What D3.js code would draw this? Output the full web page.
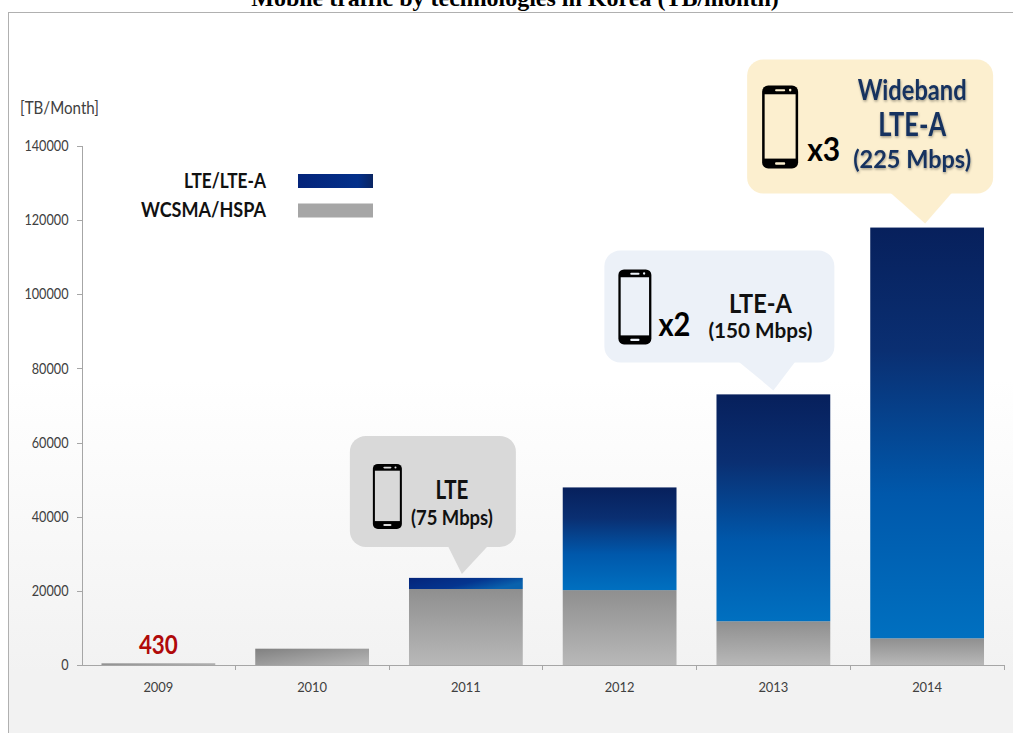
<!DOCTYPE html>
<html>
<head>
<meta charset="utf-8">
<title>Mobile traffic by technologies in Korea</title>
<script src="https://cdn.jsdelivr.net/npm/d3@7"></script>
<style>
  html, body { margin: 0; padding: 0; background: #fff; overflow: hidden; }
  svg { display: block; }
  text { font-family: Lato, "Open Sans", sans-serif; }
  .axis path, .axis line { stroke: #a6a6a6; shape-rendering: crispEdges; }
  .axis text { fill: #404040; }
</style>
</head>
<body>
<div id="chart"></div>
<script>
// ---- Data ----
var YEARS = ['2009', '2010', '2011', '2012', '2013', '2014'];
var WCDMA_VALUES = [430, 4400, 20500, 20200, 11800, 7200];
var LTE_VALUES = [0, 0, 3000, 27700, 61200, 110800];
var Y_TICKS = [0, 20000, 40000, 60000, 80000, 100000, 120000, 140000];

var LEGEND_LABELS = ['LTE/LTE-A', 'WCSMA/HSPA'];
var LEGEND_WIDTHS = [82, 125];

// Callouts: lines are [text, centre dx from box left, baseline dy from box top, size, width]
var CALLOUTS = [
  { year: '2011', fill: '#d9d9d9', color: '#111', box: [-112, 54, -138, -27], base: [-14, 26], tipDx: -4,
    phone: [23, 28, 29, 65], mult: null,
    lines: [['LTE', 102, 63, 27, 33], ['(75 Mbps)', 102, 89, 20, 82]] },
  { year: '2013', fill: '#ecf1f8', color: '#111', box: [-169, 61, -140, -28], base: [-35, 22], tipDx: 0,
    phone: [14, 19, 33, 75], mult: ['x2', 54, 86, 32, 32],
    lines: [['LTE-A', 156, 63, 27, 63], ['(150 Mbps)', 156, 88, 21, 104]] },
  { year: '2014', fill: '#fcefcf', color: '#14305f', shadow: true, box: [-178, 68, -164, -30], base: [-35, 27], tipDx: -2,
    phone: [15, 26, 36, 83], mult: ['x3', 60, 101, 33, 33],
    lines: [['Wideband', 165, 40, 28, 109], ['LTE-A', 165, 76, 33, 68], ['(225 Mbps)', 165, 108, 25, 118]] }
];

var WIDTH = 1013, HEIGHT = 733;
var X0 = 81.5, X1 = 1004, Y0 = 665, Y1 = 146;

var svg = d3.select('#chart').append('svg')
  .attr('width', WIDTH)
  .attr('height', HEIGHT);

var defs = svg.append('defs');

function gradient(id, x2, y2, stops) {
  var g = defs.append('linearGradient').attr('id', id)
    .attr('x1', 0).attr('y1', 0).attr('x2', x2).attr('y2', y2);
  stops.forEach(function (s) {
    g.append('stop').attr('offset', s[0]).attr('stop-color', s[1]);
  });
}

gradient('bg', 0, 1, [[0, '#ffffff'], [0.5, '#ffffff'], [0.9, '#f2f2f2'], [1, '#f2f2f2']]);
gradient('lteFill', 0, 1, [[0, '#07205c'], [0.3, '#0a2f72'], [0.65, '#0058ab'], [1, '#0070c0']]);
gradient('lteFlat', 1, 0.4, [[0, '#04247a'], [0.6, '#04358f'], [1, '#0a62ad']]);
gradient('grayFill', 0, 1, [[0, '#8f8f8f'], [1, '#b8b8b8']]);
gradient('grayDiag', 1, 1, [[0, '#808080'], [1, '#b8b8b8']]);
gradient('legendLte', 1, 0, [[0, '#04247a'], [0.8, '#03308a'], [1, '#0a2562']]);

var shadow = defs.append('filter').attr('id', 'textShadow')
  .attr('x', '-10%').attr('y', '-10%').attr('width', '120%').attr('height', '130%');
shadow.append('feDropShadow').attr('dx', 0.5).attr('dy', 1.5).attr('stdDeviation', 1)
  .attr('flood-color', '#000').attr('flood-opacity', 0.35);

// Plain label squeezed to the width (Lato runs wider than the original)
function label(parent, str, x, y, size, width, anchor) {
  return parent.append('text')
    .attr('x', x).attr('y', y)
    .attr('font-size', size)
    .attr('text-anchor', anchor || 'middle')
    .attr('textLength', width)
    .attr('lengthAdjust', 'spacingAndGlyphs')
    .text(str);
}

// ---- Frame and title ----
svg.append('rect')
  .attr('x', 8.5).attr('y', 12.5)
  .attr('width', WIDTH).attr('height', HEIGHT)
  .attr('fill', 'url(#bg)')
  .attr('stroke', '#b0b0b0');

// The title runs off the top edge in the original too
svg.append('text')
  .attr('x', 515).attr('y', 6)
  .attr('text-anchor', 'middle')
  .attr('font-size', 24)
  .attr('font-weight', 'bold')
  .style('font-family', '"Liberation Serif", serif')
  .attr('fill', '#000')
  .text('Mobile traffic by technologies in Korea (TB/month)');

// ---- Scales ----
var x = d3.scaleBand().domain(YEARS).range([X0, X1]).paddingInner(0.26).paddingOuter(0.13);
var y = d3.scaleLinear().domain([0, 140000]).range([Y0, Y1]);

// ---- Axes ----
var yAxis = svg.append('g').attr('class', 'axis')
  .attr('transform', 'translate(' + X0 + ',0)')
  .call(d3.axisLeft(y).tickValues(Y_TICKS).tickSize(5).tickPadding(8).tickFormat(d3.format('d')));
yAxis.selectAll('text')
  .attr('font-size', 14.5)
  .attr('textLength', function (d) { return String(d).length * 7.35; })
  .attr('lengthAdjust', 'spacingAndGlyphs');

var xAxis = svg.append('g').attr('class', 'axis')
  .attr('transform', 'translate(0,' + Y0 + ')')
  .call(d3.axisBottom(x).tickSize(0).tickPadding(17));
xAxis.selectAll('text')
  .attr('font-size', 14)
  .attr('textLength', 30)
  .attr('lengthAdjust', 'spacingAndGlyphs');

// Category separators sit on the band edges, not at the band centres
svg.append('g').attr('class', 'axis').selectAll('line')
  .data(YEARS)
  .enter().append('line')
  .attr('x1', function (d) { return x(d) + x.bandwidth() + x.step() * 0.13; })
  .attr('x2', function (d) { return x(d) + x.bandwidth() + x.step() * 0.13; })
  .attr('y1', Y0).attr('y2', Y0 + 5);

label(svg, '[TB/Month]', 20, 114, 16.5, 79, 'start').attr('fill', '#404040');

// ---- Bars ----
svg.append('g').selectAll('rect')
  .data(YEARS)
  .enter().append('rect')
  .attr('x', function (d) { return x(d); })
  .attr('y', function (d, i) { return y(WCDMA_VALUES[i]); })
  .attr('width', x.bandwidth())
  .attr('height', function (d, i) { return Y0 - y(WCDMA_VALUES[i]); })
  .attr('fill', function (d, i) { return i < 2 ? 'url(#grayDiag)' : 'url(#grayFill)'; });

svg.append('g').selectAll('rect')
  .data(YEARS)
  .enter().append('rect')
  .attr('x', function (d) { return x(d); })
  .attr('y', function (d, i) { return y(WCDMA_VALUES[i] + LTE_VALUES[i]); })
  .attr('width', x.bandwidth())
  .attr('height', function (d, i) { return Y0 - y(LTE_VALUES[i]); })
  .attr('fill', function (d, i) { return i === 2 ? 'url(#lteFlat)' : 'url(#lteFill)'; });

// Value label on the 2009 bar
label(svg, '430', x('2009') + x.bandwidth() / 2, y(WCDMA_VALUES[0]) - 9, 27, 39)
  .attr('font-weight', 'bold')
  .attr('fill', '#b00a0a');

// ---- Legend ----
var legend = svg.append('g');
LEGEND_LABELS.forEach(function (name, i) {
  label(legend, name, 266, 188 + i * 29, 21, LEGEND_WIDTHS[i], 'end')
    .attr('font-weight', 'bold')
    .attr('fill', '#111');
  legend.append('rect')
    .attr('x', 298).attr('y', 174 + i * 29.5)
    .attr('width', 75).attr('height', 14)
    .attr('fill', i === 0 ? 'url(#legendLte)' : '#a6a6a6');
});

// ---- Callouts ----
function drawPhone(parent, px, py, w, h, screen) {
  var g = parent.append('g').attr('transform', 'translate(' + px + ',' + py + ')');
  g.append('rect').attr('width', w).attr('height', h)
    .attr('rx', w * 0.17).attr('fill', '#000');
  g.append('rect')
    .attr('x', w * 0.07).attr('y', h * 0.105)
    .attr('width', w * 0.86).attr('height', h * 0.775)
    .attr('fill', screen);
  g.append('rect')
    .attr('x', w * 0.36).attr('y', h * 0.045)
    .attr('width', w * 0.28).attr('height', h * 0.025)
    .attr('rx', 1).attr('fill', screen);
  g.append('circle')
    .attr('cx', w * 0.78).attr('cy', h * 0.055)
    .attr('r', w * 0.035).attr('fill', screen);
  g.append('rect')
    .attr('x', w * 0.36).attr('y', h * 0.925)
    .attr('width', w * 0.28).attr('height', h * 0.03)
    .attr('rx', 1).attr('fill', screen);
}

var SPEECH_RADIUS = 16;

CALLOUTS.forEach(function (c) {
  var i = YEARS.indexOf(c.year);
  var tipX = x(c.year) + x.bandwidth() / 2 + c.tipDx;
  var tipY = y(WCDMA_VALUES[i] + LTE_VALUES[i]) - 4;
  var left = tipX + c.box[0], right = tipX + c.box[1];
  var top = tipY + c.box[2], bottom = tipY + c.box[3];

  var g = svg.append('g');
  g.append('rect')
    .attr('x', left).attr('y', top)
    .attr('width', right - left).attr('height', bottom - top)
    .attr('rx', SPEECH_RADIUS)
    .attr('fill', c.fill);
  g.append('polygon')
    .attr('points', [[tipX + c.base[0], bottom - 1], [tipX + c.base[1], bottom - 1], [tipX, tipY]].join(' '))
    .attr('fill', c.fill);

  drawPhone(g, left + c.phone[0], top + c.phone[1], c.phone[2], c.phone[3], c.fill);

  if (c.mult) {
    label(g, c.mult[0], left + c.mult[1], top + c.mult[2], c.mult[3], c.mult[4], 'start')
      .attr('font-weight', 'bold').attr('fill', '#000');
  }
  c.lines.forEach(function (l) {
    label(g, l[0], left + l[1], top + l[2], l[3], l[4])
      .attr('font-weight', 'bold')
      .attr('fill', c.color)
      .attr('filter', c.shadow ? 'url(#textShadow)' : null);
  });
});
</script>
</body>
</html>
